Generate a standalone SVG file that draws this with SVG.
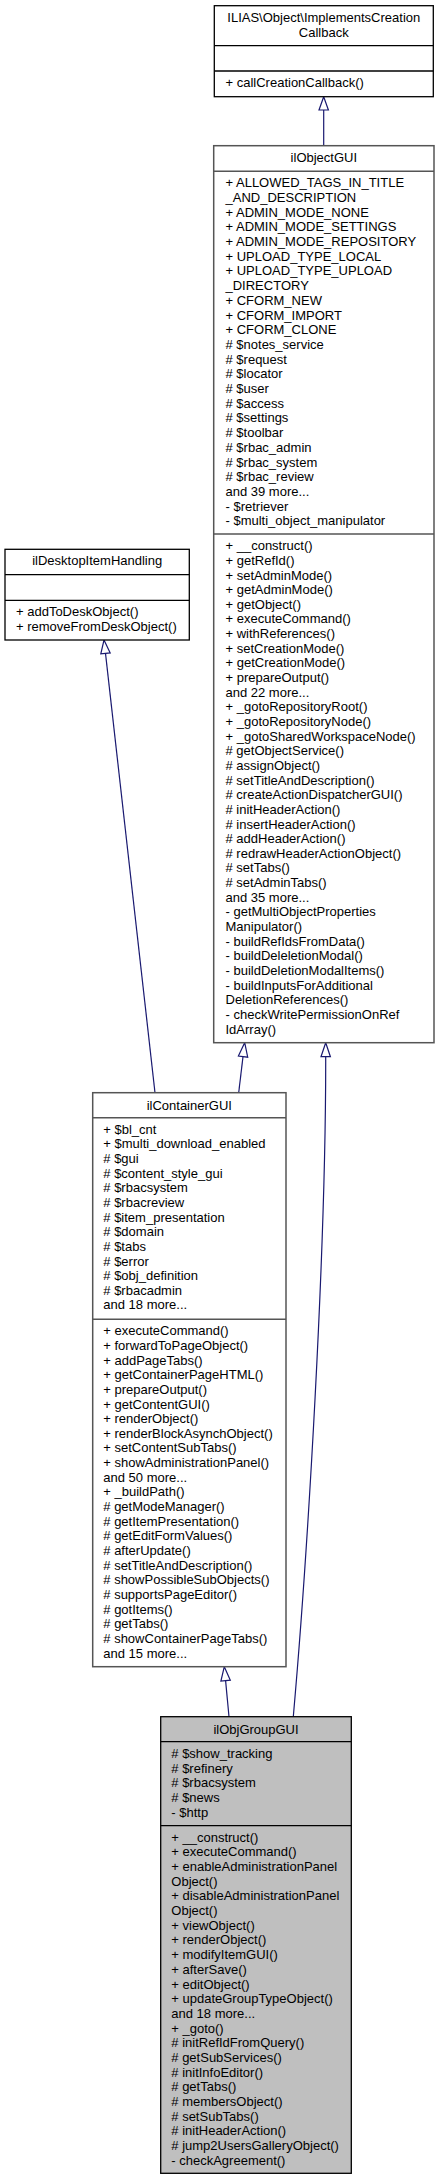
<svg xmlns="http://www.w3.org/2000/svg" width="439" height="2180" viewBox="0 0 439 2180">
<style>
text{font-family:"Liberation Sans",Arial,sans-serif;font-size:13px;fill:#000}
.t{text-anchor:middle}
.b{fill:#fff;stroke:#000;stroke-width:1.3}
.g{fill:#fff;stroke:#555;stroke-width:1.5}
.m{fill:#bfbfbf;stroke:#000;stroke-width:1.3}
.sb{stroke:#000;stroke-width:1.3}
.sg{stroke:#555;stroke-width:1.5}
.e{fill:none;stroke:#191970;stroke-width:1.2}
.h{fill:#fff;stroke:#191970;stroke-width:1.2}
</style>
<g id="connectors">
<line class="e" x1="323.7" y1="145.7" x2="323.7" y2="110"/>
<polygon class="h" points="323.7,96.7 319,110 328.4,110"/>
<line class="e" x1="155" y1="1092.7" x2="105.5" y2="653.4"/>
<polygon class="h" points="104,640 110.2,652.9 100.8,653.9"/>
<line class="e" x1="238.7" y1="1092.7" x2="243" y2="1056.6"/>
<polygon class="h" points="244.7,1042.7 247.7,1057.2 238.4,1056"/>
<path class="e" d="M293.3,1716.7 C308,1550 326,1250 325.7,1056.7"/>
<polygon class="h" points="325.7,1042.7 321,1056.7 330.4,1056.7"/>
<line class="e" x1="229" y1="1716.7" x2="225.6" y2="1680.6"/>
<polygon class="h" points="224.3,1666.7 230.3,1680.2 220.9,1681"/>
</g>
<g id="ImplementsCreationCallback">
<rect class="b" x="214.3" y="5.7" width="219" height="91"/>
<line class="sb" x1="214.3" y1="45.7" x2="433.3" y2="45.7"/>
<line class="sb" x1="214.3" y1="71" x2="433.3" y2="71"/>
<text class="t" x="323.8" y="21.8">ILIAS\Object\ImplementsCreation</text>
<text class="t" x="323.8" y="36.8">Callback</text>
<text x="225.5" y="86.5">+ callCreationCallback()</text>
</g>
<g id="ilObjectGUI">
<rect class="g" x="213.7" y="145.7" width="220.3" height="897"/>
<line class="sg" x1="213.7" y1="171.3" x2="434" y2="171.3"/>
<line class="sg" x1="213.7" y1="534" x2="434" y2="534"/>
<text class="t" x="323.85" y="161.8">ilObjectGUI</text>
<text x="225.5" y="187.2"><tspan x="225.5">+ ALLOWED_TAGS_IN_TITLE</tspan><tspan x="225.5" dy="14.7">_AND_DESCRIPTION</tspan><tspan x="225.5" dy="14.7">+ ADMIN_MODE_NONE</tspan><tspan x="225.5" dy="14.7">+ ADMIN_MODE_SETTINGS</tspan><tspan x="225.5" dy="14.7">+ ADMIN_MODE_REPOSITORY</tspan><tspan x="225.5" dy="14.7">+ UPLOAD_TYPE_LOCAL</tspan><tspan x="225.5" dy="14.7">+ UPLOAD_TYPE_UPLOAD</tspan><tspan x="225.5" dy="14.7">_DIRECTORY</tspan><tspan x="225.5" dy="14.7">+ CFORM_NEW</tspan><tspan x="225.5" dy="14.7">+ CFORM_IMPORT</tspan><tspan x="225.5" dy="14.7">+ CFORM_CLONE</tspan><tspan x="225.5" dy="14.7"># $notes_service</tspan><tspan x="225.5" dy="14.7"># $request</tspan><tspan x="225.5" dy="14.7"># $locator</tspan><tspan x="225.5" dy="14.7"># $user</tspan><tspan x="225.5" dy="14.7"># $access</tspan><tspan x="225.5" dy="14.7"># $settings</tspan><tspan x="225.5" dy="14.7"># $toolbar</tspan><tspan x="225.5" dy="14.7"># $rbac_admin</tspan><tspan x="225.5" dy="14.7"># $rbac_system</tspan><tspan x="225.5" dy="14.7"># $rbac_review</tspan><tspan x="225.5" dy="14.7">and 39 more...</tspan><tspan x="225.5" dy="14.7">- $retriever</tspan><tspan x="225.5" dy="14.7">- $multi_object_manipulator</tspan></text>
<text x="225.5" y="550.2"><tspan x="225.5">+ __construct()</tspan><tspan x="225.5" dy="14.65">+ getRefId()</tspan><tspan x="225.5" dy="14.65">+ setAdminMode()</tspan><tspan x="225.5" dy="14.65">+ getAdminMode()</tspan><tspan x="225.5" dy="14.65">+ getObject()</tspan><tspan x="225.5" dy="14.65">+ executeCommand()</tspan><tspan x="225.5" dy="14.65">+ withReferences()</tspan><tspan x="225.5" dy="14.65">+ setCreationMode()</tspan><tspan x="225.5" dy="14.65">+ getCreationMode()</tspan><tspan x="225.5" dy="14.65">+ prepareOutput()</tspan><tspan x="225.5" dy="14.65">and 22 more...</tspan><tspan x="225.5" dy="14.65">+ _gotoRepositoryRoot()</tspan><tspan x="225.5" dy="14.65">+ _gotoRepositoryNode()</tspan><tspan x="225.5" dy="14.65">+ _gotoSharedWorkspaceNode()</tspan><tspan x="225.5" dy="14.65"># getObjectService()</tspan><tspan x="225.5" dy="14.65"># assignObject()</tspan><tspan x="225.5" dy="14.65"># setTitleAndDescription()</tspan><tspan x="225.5" dy="14.65"># createActionDispatcherGUI()</tspan><tspan x="225.5" dy="14.65"># initHeaderAction()</tspan><tspan x="225.5" dy="14.65"># insertHeaderAction()</tspan><tspan x="225.5" dy="14.65"># addHeaderAction()</tspan><tspan x="225.5" dy="14.65"># redrawHeaderActionObject()</tspan><tspan x="225.5" dy="14.65"># setTabs()</tspan><tspan x="225.5" dy="14.65"># setAdminTabs()</tspan><tspan x="225.5" dy="14.65">and 35 more...</tspan><tspan x="225.5" dy="14.65">- getMultiObjectProperties</tspan><tspan x="225.5" dy="14.65">Manipulator()</tspan><tspan x="225.5" dy="14.65">- buildRefIdsFromData()</tspan><tspan x="225.5" dy="14.65">- buildDeleletionModal()</tspan><tspan x="225.5" dy="14.65">- buildDeletionModalItems()</tspan><tspan x="225.5" dy="14.65">- buildInputsForAdditional</tspan><tspan x="225.5" dy="14.65">DeletionReferences()</tspan><tspan x="225.5" dy="14.65">- checkWritePermissionOnRef</tspan><tspan x="225.5" dy="14.65">IdArray()</tspan></text>
</g>
<g id="ilDesktopItemHandling">
<rect class="b" x="5" y="549.3" width="184.3" height="90.7"/>
<line class="sb" x1="5" y1="574.7" x2="189.3" y2="574.7"/>
<line class="sb" x1="5" y1="600.3" x2="189.3" y2="600.3"/>
<text class="t" x="97.2" y="565.2">ilDesktopItemHandling</text>
<text x="16" y="616.2">+ addToDeskObject()</text>
<text x="16" y="631.2">+ removeFromDeskObject()</text>
</g>
<g id="ilContainerGUI">
<rect class="g" x="92.7" y="1092.7" width="193.3" height="574"/>
<line class="sg" x1="92.7" y1="1117.7" x2="286" y2="1117.7"/>
<line class="sg" x1="92.7" y1="1319.3" x2="286" y2="1319.3"/>
<text class="t" x="189.3" y="1109.5">ilContainerGUI</text>
<text x="103.3" y="1133.8"><tspan x="103.3">+ $bl_cnt</tspan><tspan x="103.3" dy="14.64">+ $multi_download_enabled</tspan><tspan x="103.3" dy="14.64"># $gui</tspan><tspan x="103.3" dy="14.64"># $content_style_gui</tspan><tspan x="103.3" dy="14.64"># $rbacsystem</tspan><tspan x="103.3" dy="14.64"># $rbacreview</tspan><tspan x="103.3" dy="14.64"># $item_presentation</tspan><tspan x="103.3" dy="14.64"># $domain</tspan><tspan x="103.3" dy="14.64"># $tabs</tspan><tspan x="103.3" dy="14.64"># $error</tspan><tspan x="103.3" dy="14.64"># $obj_definition</tspan><tspan x="103.3" dy="14.64"># $rbacadmin</tspan><tspan x="103.3" dy="14.64">and 18 more...</tspan></text>
<text x="103.3" y="1335.2"><tspan x="103.3">+ executeCommand()</tspan><tspan x="103.3" dy="14.66">+ forwardToPageObject()</tspan><tspan x="103.3" dy="14.66">+ addPageTabs()</tspan><tspan x="103.3" dy="14.66">+ getContainerPageHTML()</tspan><tspan x="103.3" dy="14.66">+ prepareOutput()</tspan><tspan x="103.3" dy="14.66">+ getContentGUI()</tspan><tspan x="103.3" dy="14.66">+ renderObject()</tspan><tspan x="103.3" dy="14.66">+ renderBlockAsynchObject()</tspan><tspan x="103.3" dy="14.66">+ setContentSubTabs()</tspan><tspan x="103.3" dy="14.66">+ showAdministrationPanel()</tspan><tspan x="103.3" dy="14.66">and 50 more...</tspan><tspan x="103.3" dy="14.66">+ _buildPath()</tspan><tspan x="103.3" dy="14.66"># getModeManager()</tspan><tspan x="103.3" dy="14.66"># getItemPresentation()</tspan><tspan x="103.3" dy="14.66"># getEditFormValues()</tspan><tspan x="103.3" dy="14.66"># afterUpdate()</tspan><tspan x="103.3" dy="14.66"># setTitleAndDescription()</tspan><tspan x="103.3" dy="14.66"># showPossibleSubObjects()</tspan><tspan x="103.3" dy="14.66"># supportsPageEditor()</tspan><tspan x="103.3" dy="14.66"># gotItems()</tspan><tspan x="103.3" dy="14.66"># getTabs()</tspan><tspan x="103.3" dy="14.66"># showContainerPageTabs()</tspan><tspan x="103.3" dy="14.66">and 15 more...</tspan></text>
</g>
<g id="ilObjGroupGUI">
<rect class="m" x="160.7" y="1716.7" width="190.6" height="456.6"/>
<line class="sb" x1="160.7" y1="1741.7" x2="351.3" y2="1741.7"/>
<line class="sb" x1="160.7" y1="1825.7" x2="351.3" y2="1825.7"/>
<text class="t" x="256" y="1733.5">ilObjGroupGUI</text>
<text x="171.3" y="1757.8"><tspan x="171.3"># $show_tracking</tspan><tspan x="171.3" dy="14.8"># $refinery</tspan><tspan x="171.3" dy="14.8"># $rbacsystem</tspan><tspan x="171.3" dy="14.8"># $news</tspan><tspan x="171.3" dy="14.8">- $http</tspan></text>
<text x="171.3" y="1841.8"><tspan x="171.3">+ __construct()</tspan><tspan x="171.3" dy="14.67">+ executeCommand()</tspan><tspan x="171.3" dy="14.67">+ enableAdministrationPanel</tspan><tspan x="171.3" dy="14.67">Object()</tspan><tspan x="171.3" dy="14.67">+ disableAdministrationPanel</tspan><tspan x="171.3" dy="14.67">Object()</tspan><tspan x="171.3" dy="14.67">+ viewObject()</tspan><tspan x="171.3" dy="14.67">+ renderObject()</tspan><tspan x="171.3" dy="14.67">+ modifyItemGUI()</tspan><tspan x="171.3" dy="14.67">+ afterSave()</tspan><tspan x="171.3" dy="14.67">+ editObject()</tspan><tspan x="171.3" dy="14.67">+ updateGroupTypeObject()</tspan><tspan x="171.3" dy="14.67">and 18 more...</tspan><tspan x="171.3" dy="14.67">+ _goto()</tspan><tspan x="171.3" dy="14.67"># initRefIdFromQuery()</tspan><tspan x="171.3" dy="14.67"># getSubServices()</tspan><tspan x="171.3" dy="14.67"># initInfoEditor()</tspan><tspan x="171.3" dy="14.67"># getTabs()</tspan><tspan x="171.3" dy="14.67"># membersObject()</tspan><tspan x="171.3" dy="14.67"># setSubTabs()</tspan><tspan x="171.3" dy="14.67"># initHeaderAction()</tspan><tspan x="171.3" dy="14.67"># jump2UsersGalleryObject()</tspan><tspan x="171.3" dy="14.67">- checkAgreement()</tspan></text>
</g>
</svg>
